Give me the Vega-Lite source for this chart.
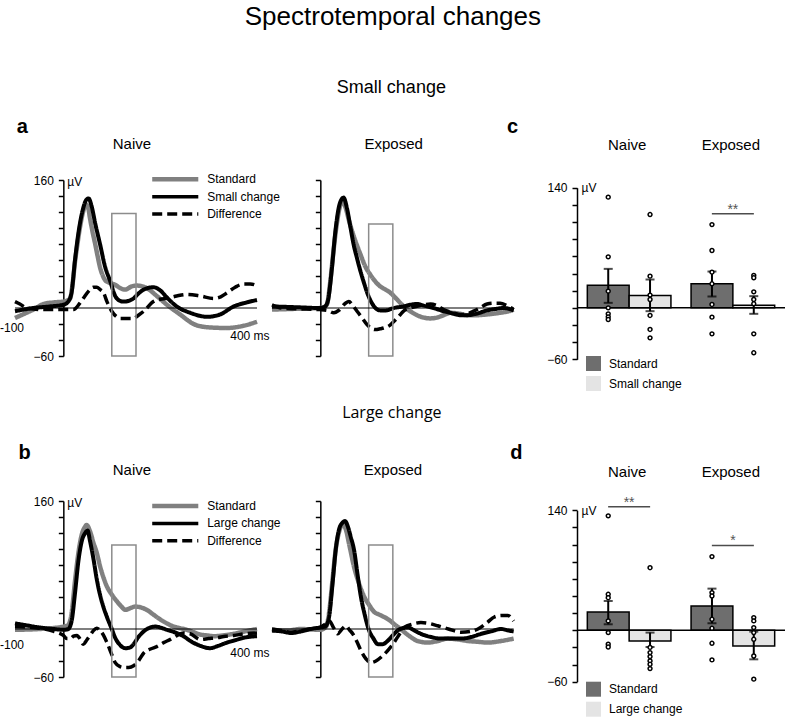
{
  "$schema": "https://vega.github.io/schema/vega-lite/v6.json",
  "padding": {"left": 0, "top": 3, "right": 0, "bottom": 0},
  "background": "white",
  "title": {"text": "Spectrotemporal changes", "font": "Liberation Sans", "fontSize": 26, "fontWeight": "normal", "color": "black", "anchor": "middle", "offset": 49},
  "config": {
    "view": {"stroke": null},
    "text": {"font": "Liberation Sans", "fontSize": 12, "color": "black"},
    "axis": {"labelFont": "Liberation Sans", "labelFontSize": 12, "labelColor": "black", "domainColor": "black", "domainWidth": 1.5, "tickColor": "black", "tickWidth": 1.5, "tickSize": 5, "grid": false, "labelPadding": 5, "titleFont": "Liberation Sans", "titleFontSize": 12, "titleFontWeight": "normal", "titleColor": "black", "titleAngle": 0, "titleAlign": "left", "titleBaseline": "middle", "labelOverlap": false, "labelFlush": false}
  },
  "datasets": {
    "aN": [
      {"series":"Standard","t":-100,"v":-12.5},{"series":"Standard","t":-80,"v":-7},{"series":"Standard","t":-62,"v":-2},{"series":"Standard","t":-41,"v":5},{"series":"Standard","t":-20,"v":7},{"series":"Standard","t":0,"v":8},{"series":"Standard","t":10,"v":10},{"series":"Standard","t":14,"v":12},{"series":"Standard","t":19,"v":30},{"series":"Standard","t":24,"v":58},{"series":"Standard","t":29,"v":80},{"series":"Standard","t":34,"v":100},{"series":"Standard","t":41,"v":121},{"series":"Standard","t":47,"v":129},{"series":"Standard","t":51,"v":126},{"series":"Standard","t":55,"v":112},{"series":"Standard","t":60,"v":96},{"series":"Standard","t":66,"v":79},{"series":"Standard","t":71,"v":64},{"series":"Standard","t":76,"v":50},{"series":"Standard","t":81,"v":41},{"series":"Standard","t":86,"v":35},{"series":"Standard","t":97,"v":31},{"series":"Standard","t":107,"v":29},{"series":"Standard","t":117,"v":25},{"series":"Standard","t":128,"v":23},{"series":"Standard","t":141,"v":27},{"series":"Standard","t":152,"v":28},{"series":"Standard","t":172,"v":25},{"series":"Standard","t":193,"v":15},{"series":"Standard","t":214,"v":4},{"series":"Standard","t":241,"v":-8},{"series":"Standard","t":269,"v":-20},{"series":"Standard","t":297,"v":-24},{"series":"Standard","t":338,"v":-25},{"series":"Standard","t":366,"v":-23},{"series":"Standard","t":386,"v":-20},{"series":"Standard","t":400,"v":-17},
      {"series":"Small change","t":-100,"v":-4},{"series":"Small change","t":-62,"v":0},{"series":"Small change","t":-28,"v":2},{"series":"Small change","t":0,"v":4},{"series":"Small change","t":10,"v":8},{"series":"Small change","t":17,"v":20},{"series":"Small change","t":24,"v":60},{"series":"Small change","t":29,"v":85},{"series":"Small change","t":34,"v":105},{"series":"Small change","t":41,"v":125},{"series":"Small change","t":47,"v":135},{"series":"Small change","t":52,"v":137},{"series":"Small change","t":58,"v":128},{"series":"Small change","t":66,"v":105},{"series":"Small change","t":76,"v":79},{"series":"Small change","t":86,"v":52},{"series":"Small change","t":97,"v":33},{"series":"Small change","t":107,"v":15},{"series":"Small change","t":117,"v":9},{"series":"Small change","t":124,"v":8},{"series":"Small change","t":135,"v":9},{"series":"Small change","t":145,"v":12},{"series":"Small change","t":155,"v":18},{"series":"Small change","t":166,"v":23},{"series":"Small change","t":186,"v":26},{"series":"Small change","t":200,"v":22},{"series":"Small change","t":214,"v":13},{"series":"Small change","t":234,"v":2},{"series":"Small change","t":262,"v":-6},{"series":"Small change","t":297,"v":-11},{"series":"Small change","t":324,"v":-8},{"series":"Small change","t":352,"v":2},{"series":"Small change","t":379,"v":7},{"series":"Small change","t":400,"v":10},
      {"series":"Difference","t":-100,"v":8},{"series":"Difference","t":-90,"v":5},{"series":"Difference","t":-76,"v":0},{"series":"Difference","t":-41,"v":-2},{"series":"Difference","t":0,"v":-2},{"series":"Difference","t":21,"v":-2},{"series":"Difference","t":34,"v":6},{"series":"Difference","t":41,"v":12},{"series":"Difference","t":55,"v":23},{"series":"Difference","t":62,"v":26},{"series":"Difference","t":69,"v":26},{"series":"Difference","t":76,"v":23},{"series":"Difference","t":83,"v":19},{"series":"Difference","t":90,"v":8},{"series":"Difference","t":100,"v":-4},{"series":"Difference","t":110,"v":-11},{"series":"Difference","t":117,"v":-13},{"series":"Difference","t":145,"v":-13},{"series":"Difference","t":155,"v":-9},{"series":"Difference","t":166,"v":-4},{"series":"Difference","t":186,"v":8},{"series":"Difference","t":200,"v":11},{"series":"Difference","t":214,"v":12},{"series":"Difference","t":234,"v":15},{"series":"Difference","t":255,"v":17},{"series":"Difference","t":283,"v":15},{"series":"Difference","t":310,"v":12},{"series":"Difference","t":325,"v":14},{"series":"Difference","t":338,"v":19},{"series":"Difference","t":355,"v":26},{"series":"Difference","t":372,"v":30},{"series":"Difference","t":386,"v":30},{"series":"Difference","t":400,"v":28}
    ],
    "aE": [
      {"series":"Standard","t":-100,"v":-2},{"series":"Standard","t":-50,"v":-1},{"series":"Standard","t":0,"v":0},{"series":"Standard","t":10,"v":2},{"series":"Standard","t":14,"v":5},{"series":"Standard","t":20,"v":30},{"series":"Standard","t":27,"v":70},{"series":"Standard","t":34,"v":105},{"series":"Standard","t":41,"v":128},{"series":"Standard","t":45,"v":133},{"series":"Standard","t":52,"v":126},{"series":"Standard","t":59,"v":110},{"series":"Standard","t":69,"v":90},{"series":"Standard","t":76,"v":78},{"series":"Standard","t":83,"v":67},{"series":"Standard","t":93,"v":52},{"series":"Standard","t":103,"v":42},{"series":"Standard","t":114,"v":33},{"series":"Standard","t":124,"v":27},{"series":"Standard","t":135,"v":23},{"series":"Standard","t":145,"v":19},{"series":"Standard","t":155,"v":13},{"series":"Standard","t":166,"v":6},{"series":"Standard","t":176,"v":0},{"series":"Standard","t":186,"v":-4},{"series":"Standard","t":200,"v":-9},{"series":"Standard","t":214,"v":-12},{"series":"Standard","t":228,"v":-13},{"series":"Standard","t":241,"v":-12},{"series":"Standard","t":255,"v":-9},{"series":"Standard","t":269,"v":-6},{"series":"Standard","t":286,"v":-7},{"series":"Standard","t":303,"v":-9},{"series":"Standard","t":324,"v":-9},{"series":"Standard","t":345,"v":-8},{"series":"Standard","t":372,"v":-6},{"series":"Standard","t":390,"v":-4},{"series":"Standard","t":400,"v":-2},
      {"series":"Small change","t":-100,"v":2},{"series":"Small change","t":-50,"v":1},{"series":"Small change","t":0,"v":0},{"series":"Small change","t":10,"v":2},{"series":"Small change","t":16,"v":10},{"series":"Small change","t":24,"v":50},{"series":"Small change","t":31,"v":95},{"series":"Small change","t":38,"v":125},{"series":"Small change","t":44,"v":136},{"series":"Small change","t":48,"v":138},{"series":"Small change","t":55,"v":125},{"series":"Small change","t":62,"v":102},{"series":"Small change","t":69,"v":79},{"series":"Small change","t":76,"v":62},{"series":"Small change","t":83,"v":46},{"series":"Small change","t":90,"v":32},{"series":"Small change","t":97,"v":19},{"series":"Small change","t":105,"v":8},{"series":"Small change","t":114,"v":0},{"series":"Small change","t":124,"v":-3},{"series":"Small change","t":135,"v":-3},{"series":"Small change","t":152,"v":0},{"series":"Small change","t":172,"v":2},{"series":"Small change","t":186,"v":4},{"series":"Small change","t":200,"v":5},{"series":"Small change","t":214,"v":3},{"series":"Small change","t":234,"v":0},{"series":"Small change","t":255,"v":-4},{"series":"Small change","t":269,"v":-6},{"series":"Small change","t":290,"v":-9},{"series":"Small change","t":303,"v":-9},{"series":"Small change","t":324,"v":-7},{"series":"Small change","t":345,"v":-3},{"series":"Small change","t":365,"v":-1},{"series":"Small change","t":379,"v":0},{"series":"Small change","t":400,"v":-3},
      {"series":"Difference","t":-100,"v":4},{"series":"Difference","t":-80,"v":0},{"series":"Difference","t":-50,"v":-1},{"series":"Difference","t":0,"v":-2},{"series":"Difference","t":15,"v":-3},{"series":"Difference","t":28,"v":-6},{"series":"Difference","t":38,"v":-3},{"series":"Difference","t":52,"v":6},{"series":"Difference","t":59,"v":8},{"series":"Difference","t":66,"v":4},{"series":"Difference","t":76,"v":-4},{"series":"Difference","t":86,"v":-12},{"series":"Difference","t":97,"v":-21},{"series":"Difference","t":107,"v":-26},{"series":"Difference","t":114,"v":-27},{"series":"Difference","t":124,"v":-26},{"series":"Difference","t":131,"v":-25},{"series":"Difference","t":145,"v":-21},{"series":"Difference","t":152,"v":-17},{"series":"Difference","t":166,"v":-8},{"series":"Difference","t":172,"v":-4},{"series":"Difference","t":186,"v":0},{"series":"Difference","t":200,"v":2},{"series":"Difference","t":214,"v":4},{"series":"Difference","t":228,"v":5},{"series":"Difference","t":241,"v":3},{"series":"Difference","t":255,"v":-2},{"series":"Difference","t":275,"v":-6},{"series":"Difference","t":290,"v":-8},{"series":"Difference","t":305,"v":-7},{"series":"Difference","t":317,"v":-4},{"series":"Difference","t":330,"v":0},{"series":"Difference","t":345,"v":5},{"series":"Difference","t":360,"v":6},{"series":"Difference","t":372,"v":6},{"series":"Difference","t":386,"v":3},{"series":"Difference","t":400,"v":-2}
    ],
    "bN": [
      {"series":"Standard","t":-100,"v":-1},{"series":"Standard","t":-50,"v":0},{"series":"Standard","t":0,"v":3},{"series":"Standard","t":10,"v":5},{"series":"Standard","t":17,"v":20},{"series":"Standard","t":24,"v":60},{"series":"Standard","t":31,"v":95},{"series":"Standard","t":38,"v":118},{"series":"Standard","t":45,"v":128},{"series":"Standard","t":48,"v":130},{"series":"Standard","t":55,"v":122},{"series":"Standard","t":62,"v":108},{"series":"Standard","t":69,"v":95},{"series":"Standard","t":76,"v":78},{"series":"Standard","t":83,"v":64},{"series":"Standard","t":90,"v":53},{"series":"Standard","t":100,"v":43},{"series":"Standard","t":110,"v":35},{"series":"Standard","t":120,"v":28},{"series":"Standard","t":128,"v":24},{"series":"Standard","t":138,"v":26},{"series":"Standard","t":148,"v":28},{"series":"Standard","t":160,"v":27},{"series":"Standard","t":172,"v":24},{"series":"Standard","t":186,"v":18},{"series":"Standard","t":200,"v":12},{"series":"Standard","t":214,"v":7},{"series":"Standard","t":228,"v":3},{"series":"Standard","t":241,"v":1},{"series":"Standard","t":255,"v":-1},{"series":"Standard","t":269,"v":-4},{"series":"Standard","t":283,"v":-7},{"series":"Standard","t":297,"v":-8},{"series":"Standard","t":310,"v":-9},{"series":"Standard","t":330,"v":-8},{"series":"Standard","t":352,"v":-6},{"series":"Standard","t":375,"v":-3},{"series":"Standard","t":400,"v":0},
      {"series":"Large change","t":-100,"v":7},{"series":"Large change","t":-80,"v":5},{"series":"Large change","t":-50,"v":2},{"series":"Large change","t":-20,"v":0},{"series":"Large change","t":0,"v":-1},{"series":"Large change","t":10,"v":0},{"series":"Large change","t":17,"v":10},{"series":"Large change","t":24,"v":45},{"series":"Large change","t":31,"v":85},{"series":"Large change","t":38,"v":110},{"series":"Large change","t":45,"v":120},{"series":"Large change","t":50,"v":123},{"series":"Large change","t":55,"v":110},{"series":"Large change","t":62,"v":88},{"series":"Large change","t":69,"v":62},{"series":"Large change","t":76,"v":42},{"series":"Large change","t":83,"v":27},{"series":"Large change","t":90,"v":15},{"series":"Large change","t":100,"v":0},{"series":"Large change","t":107,"v":-11},{"series":"Large change","t":117,"v":-20},{"series":"Large change","t":128,"v":-24},{"series":"Large change","t":138,"v":-23},{"series":"Large change","t":145,"v":-19},{"series":"Large change","t":155,"v":-10},{"series":"Large change","t":166,"v":-3},{"series":"Large change","t":180,"v":2},{"series":"Large change","t":190,"v":3},{"series":"Large change","t":214,"v":-1},{"series":"Large change","t":234,"v":-5},{"series":"Large change","t":248,"v":-9},{"series":"Large change","t":265,"v":-16},{"series":"Large change","t":283,"v":-21},{"series":"Large change","t":303,"v":-24},{"series":"Large change","t":320,"v":-21},{"series":"Large change","t":338,"v":-17},{"series":"Large change","t":355,"v":-14},{"series":"Large change","t":372,"v":-11},{"series":"Large change","t":400,"v":-9},
      {"series":"Difference","t":-100,"v":3},{"series":"Difference","t":-50,"v":1},{"series":"Difference","t":-20,"v":-3},{"series":"Difference","t":0,"v":-8},{"series":"Difference","t":7,"v":-12},{"series":"Difference","t":14,"v":-12},{"series":"Difference","t":21,"v":-9},{"series":"Difference","t":28,"v":-8},{"series":"Difference","t":35,"v":-13},{"series":"Difference","t":41,"v":-19},{"series":"Difference","t":48,"v":-14},{"series":"Difference","t":55,"v":-8},{"series":"Difference","t":62,"v":-2},{"series":"Difference","t":69,"v":1},{"series":"Difference","t":76,"v":-2},{"series":"Difference","t":83,"v":-8},{"series":"Difference","t":90,"v":-17},{"series":"Difference","t":100,"v":-32},{"series":"Difference","t":107,"v":-42},{"series":"Difference","t":117,"v":-47},{"series":"Difference","t":124,"v":-48},{"series":"Difference","t":135,"v":-48},{"series":"Difference","t":145,"v":-46},{"series":"Difference","t":155,"v":-40},{"series":"Difference","t":166,"v":-30},{"series":"Difference","t":180,"v":-25},{"series":"Difference","t":193,"v":-22},{"series":"Difference","t":207,"v":-17},{"series":"Difference","t":221,"v":-13},{"series":"Difference","t":235,"v":-8},{"series":"Difference","t":248,"v":-5},{"series":"Difference","t":262,"v":-6},{"series":"Difference","t":283,"v":-13},{"series":"Difference","t":300,"v":-12},{"series":"Difference","t":317,"v":-11},{"series":"Difference","t":335,"v":-9},{"series":"Difference","t":352,"v":-8},{"series":"Difference","t":375,"v":-6},{"series":"Difference","t":400,"v":-5}
    ],
    "bE": [
      {"series":"Standard","t":-100,"v":-1},{"series":"Standard","t":-70,"v":-2},{"series":"Standard","t":-40,"v":0},{"series":"Standard","t":0,"v":-1},{"series":"Standard","t":12,"v":3},{"series":"Standard","t":18,"v":20},{"series":"Standard","t":25,"v":60},{"series":"Standard","t":32,"v":100},{"series":"Standard","t":39,"v":122},{"series":"Standard","t":46,"v":131},{"series":"Standard","t":53,"v":124},{"series":"Standard","t":60,"v":105},{"series":"Standard","t":70,"v":77},{"series":"Standard","t":80,"v":57},{"series":"Standard","t":91,"v":40},{"series":"Standard","t":101,"v":30},{"series":"Standard","t":112,"v":21},{"series":"Standard","t":122,"v":18},{"series":"Standard","t":132,"v":15},{"series":"Standard","t":143,"v":11},{"series":"Standard","t":153,"v":6},{"series":"Standard","t":164,"v":1},{"series":"Standard","t":174,"v":-4},{"series":"Standard","t":187,"v":-10},{"series":"Standard","t":201,"v":-15},{"series":"Standard","t":222,"v":-17},{"series":"Standard","t":243,"v":-15},{"series":"Standard","t":263,"v":-12},{"series":"Standard","t":284,"v":-13},{"series":"Standard","t":305,"v":-15},{"series":"Standard","t":326,"v":-16},{"series":"Standard","t":346,"v":-17},{"series":"Standard","t":374,"v":-15},{"series":"Standard","t":400,"v":-12},
      {"series":"Large change","t":-100,"v":-2},{"series":"Large change","t":-80,"v":-3},{"series":"Large change","t":-60,"v":-5},{"series":"Large change","t":-40,"v":-3},{"series":"Large change","t":-20,"v":0},{"series":"Large change","t":0,"v":2},{"series":"Large change","t":10,"v":3},{"series":"Large change","t":18,"v":15},{"series":"Large change","t":25,"v":55},{"series":"Large change","t":32,"v":100},{"series":"Large change","t":39,"v":125},{"series":"Large change","t":46,"v":133},{"series":"Large change","t":51,"v":135},{"series":"Large change","t":57,"v":128},{"series":"Large change","t":63,"v":115},{"series":"Large change","t":70,"v":98},{"series":"Large change","t":77,"v":68},{"series":"Large change","t":84,"v":40},{"series":"Large change","t":91,"v":20},{"series":"Large change","t":101,"v":-2},{"series":"Large change","t":110,"v":-12},{"series":"Large change","t":119,"v":-19},{"series":"Large change","t":129,"v":-19},{"series":"Large change","t":139,"v":-15},{"series":"Large change","t":150,"v":-8},{"series":"Large change","t":160,"v":-2},{"series":"Large change","t":170,"v":1},{"series":"Large change","t":181,"v":2},{"series":"Large change","t":195,"v":-2},{"series":"Large change","t":208,"v":-6},{"series":"Large change","t":229,"v":-10},{"series":"Large change","t":250,"v":-12},{"series":"Large change","t":270,"v":-12},{"series":"Large change","t":291,"v":-12},{"series":"Large change","t":312,"v":-10},{"series":"Large change","t":333,"v":-6},{"series":"Large change","t":353,"v":-3},{"series":"Large change","t":374,"v":0},{"series":"Large change","t":390,"v":-2},{"series":"Large change","t":400,"v":-3},
      {"series":"Difference","t":-100,"v":0},{"series":"Difference","t":-80,"v":-2},{"series":"Difference","t":-60,"v":-4},{"series":"Difference","t":-40,"v":-2},{"series":"Difference","t":-20,"v":0},{"series":"Difference","t":0,"v":2},{"series":"Difference","t":10,"v":6},{"series":"Difference","t":19,"v":10},{"series":"Difference","t":27,"v":2},{"series":"Difference","t":36,"v":-6},{"series":"Difference","t":45,"v":0},{"series":"Difference","t":53,"v":4},{"series":"Difference","t":60,"v":-1},{"series":"Difference","t":67,"v":-6},{"series":"Difference","t":75,"v":-15},{"series":"Difference","t":84,"v":-27},{"series":"Difference","t":94,"v":-37},{"series":"Difference","t":105,"v":-42},{"series":"Difference","t":115,"v":-40},{"series":"Difference","t":126,"v":-35},{"series":"Difference","t":138,"v":-28},{"series":"Difference","t":150,"v":-19},{"series":"Difference","t":162,"v":-8},{"series":"Difference","t":174,"v":2},{"series":"Difference","t":190,"v":6},{"series":"Difference","t":208,"v":8},{"series":"Difference","t":225,"v":7},{"series":"Difference","t":243,"v":4},{"series":"Difference","t":265,"v":0},{"series":"Difference","t":291,"v":-4},{"series":"Difference","t":310,"v":-3},{"series":"Difference","t":326,"v":0},{"series":"Difference","t":345,"v":8},{"series":"Difference","t":360,"v":15},{"series":"Difference","t":375,"v":17},{"series":"Difference","t":388,"v":17},{"series":"Difference","t":400,"v":10}
    ],
    "cBars": [
      {"group":"Naive","series":"Standard","mean":26.4,"lo":5.8,"hi":45.4},
      {"group":"Naive","series":"Small change","mean":14.4,"lo":-3.9,"hi":33},
      {"group":"Exposed","series":"Standard","mean":28,"lo":13.2,"hi":42.3},
      {"group":"Exposed","series":"Small change","mean":3.1,"lo":-7,"hi":13.6}
    ],
    "cPts": [
      {"group":"Naive","series":"Standard","v":129},{"group":"Naive","series":"Standard","v":59.4},{"group":"Naive","series":"Standard","v":19.4},{"group":"Naive","series":"Standard","v":0},{"group":"Naive","series":"Standard","v":-7},{"group":"Naive","series":"Standard","v":-10.5},{"group":"Naive","series":"Standard","v":-13.6},
      {"group":"Naive","series":"Small change","v":108.7},{"group":"Naive","series":"Small change","v":36.9},{"group":"Naive","series":"Small change","v":14.8},{"group":"Naive","series":"Small change","v":9.7},{"group":"Naive","series":"Small change","v":-8.9},{"group":"Naive","series":"Small change","v":-25.2},{"group":"Naive","series":"Small change","v":-35},
      {"group":"Exposed","series":"Standard","v":97},{"group":"Exposed","series":"Standard","v":66.8},{"group":"Exposed","series":"Standard","v":41.6},{"group":"Exposed","series":"Standard","v":28},{"group":"Exposed","series":"Standard","v":3.9},{"group":"Exposed","series":"Standard","v":-10.9},{"group":"Exposed","series":"Standard","v":-30.3},
      {"group":"Exposed","series":"Small change","v":37.7},{"group":"Exposed","series":"Small change","v":35},{"group":"Exposed","series":"Small change","v":18.6},{"group":"Exposed","series":"Small change","v":9.7},{"group":"Exposed","series":"Small change","v":4.7},{"group":"Exposed","series":"Small change","v":-30.3},{"group":"Exposed","series":"Small change","v":-52.4}
    ],
    "cSig": [{"group":"Exposed","v":109.5,"label":"**"}],
    "dBars": [
      {"group":"Naive","series":"Standard","mean":21.4,"lo":7,"hi":34.2},
      {"group":"Naive","series":"Large change","mean":-12.5,"lo":-19.5,"hi":-2.7},
      {"group":"Exposed","series":"Standard","mean":28.4,"lo":8.2,"hi":48.6},
      {"group":"Exposed","series":"Large change","mean":-18.3,"lo":-33.9,"hi":-1.6}
    ],
    "dPts": [
      {"group":"Naive","series":"Standard","v":133.5},{"group":"Naive","series":"Standard","v":42},{"group":"Naive","series":"Standard","v":38},{"group":"Naive","series":"Standard","v":10.9},{"group":"Naive","series":"Standard","v":-2.7},{"group":"Naive","series":"Standard","v":-16.3},{"group":"Naive","series":"Standard","v":-19.5},
      {"group":"Naive","series":"Large change","v":73},{"group":"Naive","series":"Large change","v":-20},{"group":"Naive","series":"Large change","v":-26},{"group":"Naive","series":"Large change","v":-30.7},{"group":"Naive","series":"Large change","v":-35.8},{"group":"Naive","series":"Large change","v":-39.7},{"group":"Naive","series":"Large change","v":-44.7},
      {"group":"Exposed","series":"Standard","v":86},{"group":"Exposed","series":"Standard","v":44},{"group":"Exposed","series":"Standard","v":40},{"group":"Exposed","series":"Standard","v":12.8},{"group":"Exposed","series":"Standard","v":2.3},{"group":"Exposed","series":"Standard","v":-15.2},{"group":"Exposed","series":"Standard","v":-34.6},
      {"group":"Exposed","series":"Large change","v":14.8},{"group":"Exposed","series":"Large change","v":10.9},{"group":"Exposed","series":"Large change","v":3.1},{"group":"Exposed","series":"Large change","v":-2.7},{"group":"Exposed","series":"Large change","v":-10.5},{"group":"Exposed","series":"Large change","v":-30},{"group":"Exposed","series":"Large change","v":-57}
    ],
    "dSig": [{"group":"Naive","v":144,"label":"**"},{"group":"Exposed","v":99,"label":"*"}]
  },
  "columns": 3,
  "spacing": {"row": 141, "column": 15},
  "bounds": "flush",
  "align": "each",
  "resolve": {"scale": {"color": "independent", "strokeDash": "independent", "strokeWidth": "independent", "xOffset": "independent"}},
  "concat": [
    {
      "width": 242, "height": 180,
      "resolve": {"axis": {"x": "independent", "y": "independent"}},
      "layer": [
        {"data": {"name": "aN"}, "mark": {"type": "line", "interpolate": "monotone", "strokeJoin": "round"},
         "encoding": {
           "x": {"field": "t", "type": "quantitative", "scale": {"domain": [-100, 400], "nice": false, "zero": false}, "axis": null},
           "y": {"field": "v", "type": "quantitative", "scale": {"domain": [-60, 160], "range": [176, 0], "nice": false, "zero": false},
                 "axis": {"offset": -48.33, "values": [-60,-40,-20,0,20,40,60,80,100,120,140,160], "labelExpr": "datum.value == 160 || datum.value == -60 ? datum.label : ''", "title": "µV", "titleX": 3.4, "titleY": 1}},
           "color": {"field": "series", "type": "nominal", "scale": {"domain": ["Standard", "Small change", "Difference"], "range": ["#808080", "#000000", "#000000"]}, "legend": null},
           "strokeDash": {"field": "series", "type": "nominal", "scale": {"domain": ["Standard", "Small change", "Difference"], "range": [[1, 0], [1, 0], [10, 5]]}, "legend": null},
           "strokeWidth": {"field": "series", "type": "ordinal", "scale": {"domain": ["Standard", "Small change", "Difference"], "range": [4.5, 3.5, 3.5]}, "legend": null}
         }},
        {"data": {"values": [{}]}, "mark": {"type": "rect", "fill": "transparent", "stroke": "#8c8c8c", "strokeWidth": 1.5},
         "encoding": {"x": {"datum": 100, "type": "quantitative", "axis": null}, "x2": {"datum": 150}, "y": {"datum": 118, "type": "quantitative", "axis": null}, "y2": {"datum": -60}}},
        {"data": {"values": [{}]}, "mark": {"type": "rule", "color": "black", "strokeWidth": 1.2},
         "encoding": {"x": {"datum": -100, "type": "quantitative", "axis": null}, "x2": {"datum": 400}, "y": {"datum": 0, "type": "quantitative", "axis": null}}},
        {"data": {"values": [{}]}, "mark": {"type": "rule", "color": "#808080", "strokeWidth": 4.5},
         "encoding": {"x": {"datum": 183.5, "type": "quantitative", "axis": null}, "x2": {"datum": 278.7}, "y": {"datum": 161, "type": "quantitative", "axis": null}}},
        {"data": {"values": [{}]}, "mark": {"type": "rule", "color": "black", "strokeWidth": 3.5},
         "encoding": {"x": {"datum": 183.5, "type": "quantitative", "axis": null}, "x2": {"datum": 278.7}, "y": {"datum": 139, "type": "quantitative", "axis": null}}},
        {"data": {"values": [{}]}, "mark": {"type": "rule", "color": "black", "strokeWidth": 3.5, "strokeDash": [10, 5]},
         "encoding": {"x": {"datum": 183.5, "type": "quantitative", "axis": null}, "x2": {"datum": 278.7}, "y": {"datum": 117.5, "type": "quantitative", "axis": null}}},
        {"data": {"values": [{}]}, "mark": {"type": "text", "text": "Standard", "align": "left", "baseline": "middle"},
         "encoding": {"x": {"datum": 297, "type": "quantitative", "axis": null}, "y": {"datum": 161, "type": "quantitative", "axis": null}}},
        {"data": {"values": [{}]}, "mark": {"type": "text", "text": "Small change", "align": "left", "baseline": "middle"},
         "encoding": {"x": {"datum": 297, "type": "quantitative", "axis": null}, "y": {"datum": 139, "type": "quantitative", "axis": null}}},
        {"data": {"values": [{}]}, "mark": {"type": "text", "text": "Difference", "align": "left", "baseline": "middle"},
         "encoding": {"x": {"datum": 297, "type": "quantitative", "axis": null}, "y": {"datum": 117.5, "type": "quantitative", "axis": null}}},
        {"data": {"values": [{}]}, "mark": {"type": "text", "text": "-100", "align": "right", "baseline": "middle"},
         "encoding": {"x": {"datum": -81.3, "type": "quantitative", "axis": null}, "y": {"datum": -25.4, "type": "quantitative", "axis": null}}},
        {"data": {"values": [{}]}, "mark": {"type": "text", "text": "400 ms", "align": "right", "baseline": "middle"},
         "encoding": {"x": {"datum": 426, "type": "quantitative", "axis": null}, "y": {"datum": -35, "type": "quantitative", "axis": null}}},
        {"data": {"values": [{}]}, "mark": {"type": "text", "text": "a", "align": "left", "baseline": "alphabetic", "fontSize": 20, "fontWeight": "bold"},
         "encoding": {"x": {"datum": -96.4, "type": "quantitative", "axis": null}, "y": {"datum": 219, "type": "quantitative", "axis": null}}},
        {"data": {"values": [{}]}, "mark": {"type": "text", "text": "Naive", "align": "center", "baseline": "alphabetic", "fontSize": 15},
         "encoding": {"x": {"datum": 141.5, "type": "quantitative", "axis": null}, "y": {"datum": 198.4, "type": "quantitative", "axis": null}}}
      ]
    },
    {
      "width": 290, "height": 180,
      "resolve": {"axis": {"x": "independent", "y": "independent"}},
      "layer": [
        {"data": {"name": "aE"}, "mark": {"type": "line", "interpolate": "monotone", "strokeJoin": "round"},
         "encoding": {
           "x": {"field": "t", "type": "quantitative", "scale": {"domain": [-100, 500], "nice": false, "zero": false}, "axis": null},
           "y": {"field": "v", "type": "quantitative", "scale": {"domain": [-60, 160], "range": [176, 0], "nice": false, "zero": false},
                 "axis": {"offset": -48.33, "values": [-60,-40,-20,0,20,40,60,80,100,120,140,160], "labels": false, "title": null}},
           "color": {"field": "series", "type": "nominal", "scale": {"domain": ["Standard", "Small change", "Difference"], "range": ["#808080", "#000000", "#000000"]}, "legend": null},
           "strokeDash": {"field": "series", "type": "nominal", "scale": {"domain": ["Standard", "Small change", "Difference"], "range": [[1, 0], [1, 0], [10, 5]]}, "legend": null},
           "strokeWidth": {"field": "series", "type": "ordinal", "scale": {"domain": ["Standard", "Small change", "Difference"], "range": [4.5, 3.5, 3.5]}, "legend": null}
         }},
        {"data": {"values": [{}]}, "mark": {"type": "rect", "fill": "transparent", "stroke": "#8c8c8c", "strokeWidth": 1.5},
         "encoding": {"x": {"datum": 100, "type": "quantitative", "axis": null}, "x2": {"datum": 150}, "y": {"datum": 105, "type": "quantitative", "axis": null}, "y2": {"datum": -60}}},
        {"data": {"values": [{}]}, "mark": {"type": "rule", "color": "black", "strokeWidth": 1.2},
         "encoding": {"x": {"datum": -100, "type": "quantitative", "axis": null}, "x2": {"datum": 400}, "y": {"datum": 0, "type": "quantitative", "axis": null}}},
        {"data": {"values": [{}]}, "mark": {"type": "text", "text": "Small change", "align": "center", "baseline": "alphabetic", "fontSize": 18},
         "encoding": {"x": {"datum": 147, "type": "quantitative", "axis": null}, "y": {"datum": 269, "type": "quantitative", "axis": null}}},
        {"data": {"values": [{}]}, "mark": {"type": "text", "text": "Exposed", "align": "center", "baseline": "alphabetic", "fontSize": 15},
         "encoding": {"x": {"datum": 151.7, "type": "quantitative", "axis": null}, "y": {"datum": 198.4, "type": "quantitative", "axis": null}}},
        {"data": {"values": [{}]}, "mark": {"type": "text", "text": "c", "align": "left", "baseline": "alphabetic", "fontSize": 20, "fontWeight": "bold"},
         "encoding": {"x": {"datum": 386, "type": "quantitative", "axis": null}, "y": {"datum": 219, "type": "quantitative", "axis": null}}}
      ]
    },
    {
      "width": 208, "height": 180,
      "resolve": {"axis": {"x": "independent", "y": "independent"}},
      "layer": [
        {"data": {"name": "cBars"}, "mark": {"type": "bar", "stroke": "black", "strokeWidth": 1.5},
         "encoding": {
           "x": {"field": "group", "type": "nominal", "sort": ["Naive", "Exposed"], "scale": {"domain": ["Naive", "Exposed"], "paddingInner": 0.194, "paddingOuter": 0.0995},
                 "axis": {"orient": "top", "domain": false, "ticks": false, "tickSize": 0, "labelPadding": 30.7, "labelBaseline": "alphabetic", "labelFontSize": 15, "labelAngle": 0, "labelOffset": -2, "title": null}},
           "xOffset": {"field": "series", "type": "nominal", "scale": {"domain": ["Standard", "Small change"], "paddingInner": 0, "paddingOuter": 0}},
           "y": {"field": "mean", "type": "quantitative", "scale": {"domain": [-60, 140], "range": [179.3, 7.7], "nice": false, "zero": false},
                 "axis": {"values": [-60,-40,-20,0,20,40,60,80,100,120,140], "labelExpr": "datum.value == 140 || datum.value == -60 ? datum.label : ''", "title": "µV", "titleX": 4, "titleY": 7.7}},
           "y2": {"datum": 0},
           "color": {"field": "series", "type": "nominal", "scale": {"domain": ["Standard", "Small change"], "range": ["#6e6e6e", "#e4e4e4"]},
                     "legend": {"orient": "none", "legendX": 9, "legendY": 176, "title": null, "symbolType": "square", "symbolSize": 225, "symbolStrokeWidth": 0, "symbolOpacity": 1, "labelFontSize": 12, "labelFont": "Liberation Sans", "labelColor": "black", "rowPadding": 5, "labelOffset": 8, "padding": 0}}
         }},
        {"data": {"values": [{}]}, "mark": {"type": "rule", "color": "black", "strokeWidth": 1.5},
         "encoding": {"y": {"datum": 0, "type": "quantitative", "axis": null}}},
        {"data": {"name": "cBars"}, "mark": {"type": "rule", "color": "black", "strokeWidth": 2},
         "encoding": {"x": {"field": "group", "type": "nominal", "axis": null}, "xOffset": {"field": "series", "type": "nominal"}, "y": {"field": "lo", "type": "quantitative", "axis": null}, "y2": {"field": "hi"}}},
        {"data": {"name": "cBars"}, "mark": {"type": "tick", "color": "black", "size": 9, "thickness": 2},
         "encoding": {"x": {"field": "group", "type": "nominal", "axis": null}, "xOffset": {"field": "series", "type": "nominal"}, "y": {"field": "lo", "type": "quantitative", "axis": null}}},
        {"data": {"name": "cBars"}, "mark": {"type": "tick", "color": "black", "size": 9, "thickness": 2},
         "encoding": {"x": {"field": "group", "type": "nominal", "axis": null}, "xOffset": {"field": "series", "type": "nominal"}, "y": {"field": "hi", "type": "quantitative", "axis": null}}},
        {"data": {"name": "cPts"}, "mark": {"type": "point", "shape": "circle", "filled": true, "fill": "white", "stroke": "black", "strokeWidth": 1.5, "size": 15, "opacity": 1},
         "encoding": {"x": {"field": "group", "type": "nominal", "axis": null}, "xOffset": {"field": "series", "type": "nominal"}, "y": {"field": "v", "type": "quantitative", "axis": null}}},
        {"data": {"name": "cSig"}, "mark": {"type": "tick", "color": "black", "size": 42, "thickness": 1.5},
         "encoding": {"x": {"field": "group", "type": "nominal", "axis": null}, "y": {"field": "v", "type": "quantitative", "axis": null}}},
        {"data": {"name": "cSig"}, "mark": {"type": "text", "fontSize": 14, "color": "#555555", "baseline": "alphabetic"},
         "encoding": {"x": {"field": "group", "type": "nominal", "axis": null}, "y": {"field": "v", "type": "quantitative", "axis": null}, "text": {"field": "label"}}}
      ]
    },
    {
      "width": 242, "height": 180,
      "resolve": {"axis": {"x": "independent", "y": "independent"}},
      "layer": [
        {"data": {"name": "bN"}, "mark": {"type": "line", "interpolate": "monotone", "strokeJoin": "round"},
         "encoding": {
           "x": {"field": "t", "type": "quantitative", "scale": {"domain": [-100, 400], "nice": false, "zero": false}, "axis": null},
           "y": {"field": "v", "type": "quantitative", "scale": {"domain": [-60, 160], "range": [176, 0], "nice": false, "zero": false},
                 "axis": {"offset": -48.33, "values": [-60,-40,-20,0,20,40,60,80,100,120,140,160], "labelExpr": "datum.value == 160 || datum.value == -60 ? datum.label : ''", "title": "µV", "titleX": 3.4, "titleY": 1}},
           "color": {"field": "series", "type": "nominal", "scale": {"domain": ["Standard", "Large change", "Difference"], "range": ["#808080", "#000000", "#000000"]}, "legend": null},
           "strokeDash": {"field": "series", "type": "nominal", "scale": {"domain": ["Standard", "Large change", "Difference"], "range": [[1, 0], [1, 0], [10, 5]]}, "legend": null},
           "strokeWidth": {"field": "series", "type": "ordinal", "scale": {"domain": ["Standard", "Large change", "Difference"], "range": [4.5, 3.5, 3.5]}, "legend": null}
         }},
        {"data": {"values": [{}]}, "mark": {"type": "rect", "fill": "transparent", "stroke": "#8c8c8c", "strokeWidth": 1.5},
         "encoding": {"x": {"datum": 100, "type": "quantitative", "axis": null}, "x2": {"datum": 150}, "y": {"datum": 105, "type": "quantitative", "axis": null}, "y2": {"datum": -60}}},
        {"data": {"values": [{}]}, "mark": {"type": "rule", "color": "black", "strokeWidth": 1.2},
         "encoding": {"x": {"datum": -100, "type": "quantitative", "axis": null}, "x2": {"datum": 400}, "y": {"datum": 0, "type": "quantitative", "axis": null}}},
        {"data": {"values": [{}]}, "mark": {"type": "rule", "color": "#808080", "strokeWidth": 4.5},
         "encoding": {"x": {"datum": 183.5, "type": "quantitative", "axis": null}, "x2": {"datum": 278.7}, "y": {"datum": 153.75, "type": "quantitative", "axis": null}}},
        {"data": {"values": [{}]}, "mark": {"type": "rule", "color": "black", "strokeWidth": 3.5},
         "encoding": {"x": {"datum": 183.5, "type": "quantitative", "axis": null}, "x2": {"datum": 278.7}, "y": {"datum": 132, "type": "quantitative", "axis": null}}},
        {"data": {"values": [{}]}, "mark": {"type": "rule", "color": "black", "strokeWidth": 3.5, "strokeDash": [10, 5]},
         "encoding": {"x": {"datum": 183.5, "type": "quantitative", "axis": null}, "x2": {"datum": 278.7}, "y": {"datum": 110.4, "type": "quantitative", "axis": null}}},
        {"data": {"values": [{}]}, "mark": {"type": "text", "text": "Standard", "align": "left", "baseline": "middle"},
         "encoding": {"x": {"datum": 297, "type": "quantitative", "axis": null}, "y": {"datum": 153.75, "type": "quantitative", "axis": null}}},
        {"data": {"values": [{}]}, "mark": {"type": "text", "text": "Large change", "align": "left", "baseline": "middle"},
         "encoding": {"x": {"datum": 297, "type": "quantitative", "axis": null}, "y": {"datum": 132, "type": "quantitative", "axis": null}}},
        {"data": {"values": [{}]}, "mark": {"type": "text", "text": "Difference", "align": "left", "baseline": "middle"},
         "encoding": {"x": {"datum": 297, "type": "quantitative", "axis": null}, "y": {"datum": 110.4, "type": "quantitative", "axis": null}}},
        {"data": {"values": [{}]}, "mark": {"type": "text", "text": "-100", "align": "right", "baseline": "middle"},
         "encoding": {"x": {"datum": -81.3, "type": "quantitative", "axis": null}, "y": {"datum": -20, "type": "quantitative", "axis": null}}},
        {"data": {"values": [{}]}, "mark": {"type": "text", "text": "400 ms", "align": "right", "baseline": "middle"},
         "encoding": {"x": {"datum": 426, "type": "quantitative", "axis": null}, "y": {"datum": -30, "type": "quantitative", "axis": null}}},
        {"data": {"values": [{}]}, "mark": {"type": "text", "text": "b", "align": "left", "baseline": "alphabetic", "fontSize": 20, "fontWeight": "bold"},
         "encoding": {"x": {"datum": -93, "type": "quantitative", "axis": null}, "y": {"datum": 212, "type": "quantitative", "axis": null}}},
        {"data": {"values": [{}]}, "mark": {"type": "text", "text": "Naive", "align": "center", "baseline": "alphabetic", "fontSize": 15},
         "encoding": {"x": {"datum": 141.5, "type": "quantitative", "axis": null}, "y": {"datum": 191.9, "type": "quantitative", "axis": null}}}
      ]
    },
    {
      "width": 290, "height": 180,
      "resolve": {"axis": {"x": "independent", "y": "independent"}},
      "layer": [
        {"data": {"name": "bE"}, "mark": {"type": "line", "interpolate": "monotone", "strokeJoin": "round"},
         "encoding": {
           "x": {"field": "t", "type": "quantitative", "scale": {"domain": [-100, 500], "nice": false, "zero": false}, "axis": null},
           "y": {"field": "v", "type": "quantitative", "scale": {"domain": [-60, 160], "range": [176, 0], "nice": false, "zero": false},
                 "axis": {"offset": -48.33, "values": [-60,-40,-20,0,20,40,60,80,100,120,140,160], "labels": false, "title": null}},
           "color": {"field": "series", "type": "nominal", "scale": {"domain": ["Standard", "Large change", "Difference"], "range": ["#808080", "#000000", "#000000"]}, "legend": null},
           "strokeDash": {"field": "series", "type": "nominal", "scale": {"domain": ["Standard", "Large change", "Difference"], "range": [[1, 0], [1, 0], [10, 5]]}, "legend": null},
           "strokeWidth": {"field": "series", "type": "ordinal", "scale": {"domain": ["Standard", "Large change", "Difference"], "range": [4.5, 3.5, 3.5]}, "legend": null}
         }},
        {"data": {"values": [{}]}, "mark": {"type": "rect", "fill": "transparent", "stroke": "#8c8c8c", "strokeWidth": 1.5},
         "encoding": {"x": {"datum": 100, "type": "quantitative", "axis": null}, "x2": {"datum": 150}, "y": {"datum": 105, "type": "quantitative", "axis": null}, "y2": {"datum": -60}}},
        {"data": {"values": [{}]}, "mark": {"type": "rule", "color": "black", "strokeWidth": 1.2},
         "encoding": {"x": {"datum": -100, "type": "quantitative", "axis": null}, "x2": {"datum": 400}, "y": {"datum": 0, "type": "quantitative", "axis": null}}},
        {"data": {"values": [{}]}, "mark": {"type": "text", "text": "Large change", "align": "center", "baseline": "alphabetic", "fontSize": 16, "font": "Open Sans"},
         "encoding": {"x": {"datum": 148, "type": "quantitative", "axis": null}, "y": {"datum": 263.75, "type": "quantitative", "axis": null}}},
        {"data": {"values": [{}]}, "mark": {"type": "text", "text": "Exposed", "align": "center", "baseline": "alphabetic", "fontSize": 15},
         "encoding": {"x": {"datum": 150.4, "type": "quantitative", "axis": null}, "y": {"datum": 191.9, "type": "quantitative", "axis": null}}},
        {"data": {"values": [{}]}, "mark": {"type": "text", "text": "d", "align": "left", "baseline": "alphabetic", "fontSize": 20, "fontWeight": "bold"},
         "encoding": {"x": {"datum": 393, "type": "quantitative", "axis": null}, "y": {"datum": 212, "type": "quantitative", "axis": null}}}
      ]
    },
    {
      "width": 208, "height": 180,
      "resolve": {"axis": {"x": "independent", "y": "independent"}},
      "layer": [
        {"data": {"name": "dBars"}, "mark": {"type": "bar", "stroke": "black", "strokeWidth": 1.5},
         "encoding": {
           "x": {"field": "group", "type": "nominal", "sort": ["Naive", "Exposed"], "scale": {"domain": ["Naive", "Exposed"], "paddingInner": 0.194, "paddingOuter": 0.0995},
                 "axis": {"orient": "top", "domain": false, "ticks": false, "tickSize": 0, "labelPadding": 25, "labelBaseline": "alphabetic", "labelFontSize": 15, "labelAngle": 0, "labelOffset": -2, "title": null}},
           "xOffset": {"field": "series", "type": "nominal", "scale": {"domain": ["Standard", "Large change"], "paddingInner": 0, "paddingOuter": 0}},
           "y": {"field": "mean", "type": "quantitative", "scale": {"domain": [-60, 140], "range": [180.7, 9.3], "nice": false, "zero": false},
                 "axis": {"values": [-60,-40,-20,0,20,40,60,80,100,120,140], "labelExpr": "datum.value == 140 || datum.value == -60 ? datum.label : ''", "title": "µV", "titleX": 4, "titleY": 9.3}},
           "y2": {"datum": 0},
           "color": {"field": "series", "type": "nominal", "scale": {"domain": ["Standard", "Large change"], "range": ["#6e6e6e", "#e4e4e4"]},
                     "legend": {"orient": "none", "legendX": 9, "legendY": 180.7, "title": null, "symbolType": "square", "symbolSize": 225, "symbolStrokeWidth": 0, "symbolOpacity": 1, "labelFontSize": 12, "labelFont": "Liberation Sans", "labelColor": "black", "rowPadding": 5, "labelOffset": 8, "padding": 0}}
         }},
        {"data": {"values": [{}]}, "mark": {"type": "rule", "color": "black", "strokeWidth": 1.5},
         "encoding": {"y": {"datum": 0, "type": "quantitative", "axis": null}}},
        {"data": {"name": "dBars"}, "mark": {"type": "rule", "color": "black", "strokeWidth": 2},
         "encoding": {"x": {"field": "group", "type": "nominal", "axis": null}, "xOffset": {"field": "series", "type": "nominal"}, "y": {"field": "lo", "type": "quantitative", "axis": null}, "y2": {"field": "hi"}}},
        {"data": {"name": "dBars"}, "mark": {"type": "tick", "color": "black", "size": 9, "thickness": 2},
         "encoding": {"x": {"field": "group", "type": "nominal", "axis": null}, "xOffset": {"field": "series", "type": "nominal"}, "y": {"field": "lo", "type": "quantitative", "axis": null}}},
        {"data": {"name": "dBars"}, "mark": {"type": "tick", "color": "black", "size": 9, "thickness": 2},
         "encoding": {"x": {"field": "group", "type": "nominal", "axis": null}, "xOffset": {"field": "series", "type": "nominal"}, "y": {"field": "hi", "type": "quantitative", "axis": null}}},
        {"data": {"name": "dPts"}, "mark": {"type": "point", "shape": "circle", "filled": true, "fill": "white", "stroke": "black", "strokeWidth": 1.5, "size": 15, "opacity": 1},
         "encoding": {"x": {"field": "group", "type": "nominal", "axis": null}, "xOffset": {"field": "series", "type": "nominal"}, "y": {"field": "v", "type": "quantitative", "axis": null}}},
        {"data": {"name": "dSig"}, "mark": {"type": "tick", "color": "black", "size": 42, "thickness": 1.5},
         "encoding": {"x": {"field": "group", "type": "nominal", "axis": null}, "y": {"field": "v", "type": "quantitative", "axis": null}}},
        {"data": {"name": "dSig"}, "mark": {"type": "text", "fontSize": 14, "color": "#555555", "baseline": "alphabetic"},
         "encoding": {"x": {"field": "group", "type": "nominal", "axis": null}, "y": {"field": "v", "type": "quantitative", "axis": null}, "text": {"field": "label"}}}
      ]
    }
  ]
}
